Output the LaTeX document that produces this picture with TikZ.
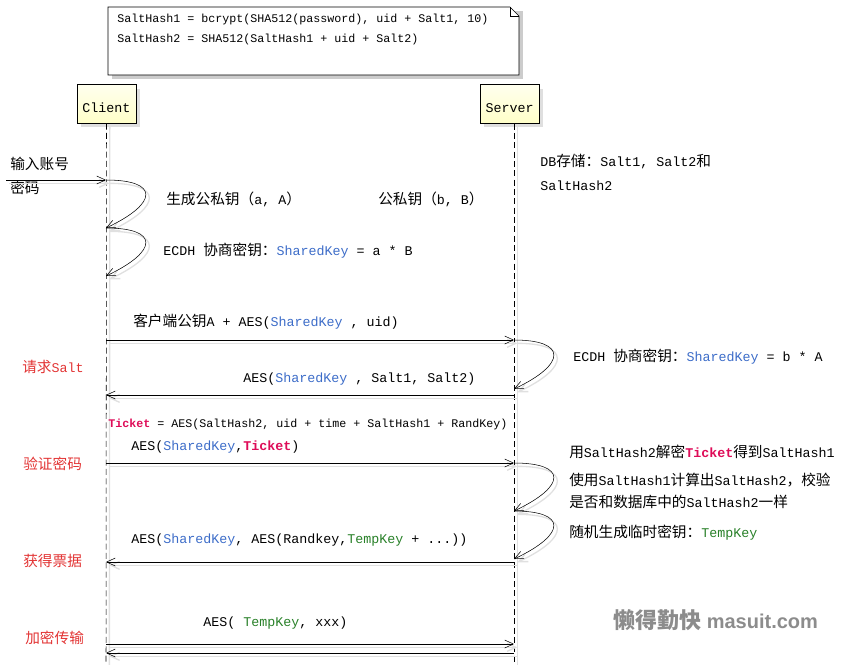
\documentclass[tikz,border=0pt]{standalone}
\usepackage{fontspec}
\setmainfont{Liberation Mono}
\newfontfamily\cjk{Noto Sans CJK SC}[Scale=1.1]
\newfontfamily\wmsans{Liberation Sans}
\usetikzlibrary{arrows.meta, calc, positioning, shadows}

\definecolor{keyblue}{RGB}{60,108,200}
\definecolor{tempgreen}{RGB}{40,128,40}
\definecolor{ticketred}{RGB}{222,12,88}
\definecolor{stagered}{RGB}{226,52,52}
\definecolor{actortop}{RGB}{255,255,238}
\definecolor{actorbot}{RGB}{255,255,200}

\newcommand{\zh}[1]{{\cjk #1}}
\newcommand{\skey}{\textcolor{keyblue}{SharedKey}}
\newcommand{\tkey}{\textcolor{tempgreen}{TempKey}}
\newcommand{\ticket}{\textcolor{ticketred}{\textbf{Ticket}}}

\begin{document}
\begin{tikzpicture}[
        x = 0.75pt, y = -0.75pt,
        >= {Straight Barb[length = 6.5pt, width = 6pt]},
        dropline/.style = {preaction = {draw = black!12, solid, line width = 1pt,
            transform canvas = {shift = {(2.5pt, -2.5pt)}}}},
        msg/.style = {->, thin, dropline},
        lifeline/.style = {thin, dash pattern = on 4.5pt off 2.5pt, dropline},
        actor/.style = {draw, thin, top color = actortop, bottom color = actorbot,
            minimum width = 44pt, minimum height = 29pt, inner sep = 0pt,
            text height = 15pt, text depth = 2pt,
            font = \fontsize{10pt}{12pt}\selectfont,
            drop shadow = {shadow xshift = 3pt, shadow yshift = -3pt, fill = black!25}},
        txt/.style = {anchor = west, inner sep = 0pt, font = \fontsize{10pt}{12pt}\selectfont},
        smalltxt/.style = {anchor = west, inner sep = 0pt, font = \fontsize{8.75pt}{10pt}\selectfont},
        stage/.style = {txt, text = stagered},
        watermark/.style = {anchor = west, inner sep = 0pt, text = black!45,
            font = \wmsans\bfseries\fontsize{15pt}{17pt}\selectfont}
    ]
    \useasboundingbox (0,0) rectangle (855,664);

    % note
    \fill[black!20] (112,11) rectangle (523,79);
    \draw[fill = white] (108,7) -- (510,7) -- (519,16) -- (519,75) -- (108,75) -- cycle;
    \draw (510,7) -- (510,16) -- (519,16);
    \node[smalltxt] (formula1) at (117,19) {SaltHash1 = bcrypt(SHA512(password), uid + Salt1, 10)};
    \node[smalltxt] (formula2) at (117,39) {SaltHash2 = SHA512(SaltHash1 + uid + Salt2)};

    % actors and lifelines
    \node[actor] (client) at (106.5,104) {Client};
    \node[actor] (server) at (509.5,104) {Server};
    \coordinate (cend) at (106,664);
    \coordinate (send) at (514,664);
    \draw[lifeline] (client.south) -- (cend);
    \draw[lifeline] (server.south -| send) -- (send);

    % points on the lifelines
    \coordinate (user) at (6,180);
    \coordinate (c0) at (106,180);
    \coordinate (c1) at (106,228);
    \coordinate (c2) at (106,276);
    \coordinate (c3) at (106,340);
    \coordinate (c4) at (106,395);
    \coordinate (c5) at (106,463);
    \coordinate (c6) at (106,562);
    \coordinate (c7) at (106,644);
    \coordinate (c8) at (106,653);
    \coordinate (s0) at (514,340);
    \coordinate (s1) at (514,389);
    \coordinate (s2) at (514,395);
    \coordinate (s3) at (514,463);
    \coordinate (s4) at (514,511);
    \coordinate (s5) at (514,559);
    \coordinate (s6) at (514,562);
    \coordinate (s7) at (514,644);
    \coordinate (s8) at (514,653);

    % client side
    \node[txt] (input1) at (10,164) {\zh{输入账号}};
    \node[txt] (input2) at (10,188) {\zh{密码}};
    \draw[msg] (user) -- (c0);
    \draw[msg] (c0) .. controls ($(c0)+(53,0)$) and ($(c1)+(53,-25)$) .. (c1);
    \draw[msg] (c1) .. controls ($(c1)+(53,0)$) and ($(c2)+(53,-25)$) .. (c2);
    \node[txt] (genA) at (166,199) {\zh{生成公私钥（}a, A\zh{）}};
    \node[txt] (genB) at (378,199) {\zh{公私钥（}b, B\zh{）}};
    \node[txt] (ecdhC) at (163,251) {ECDH \zh{协商密钥：}\skey{} = a * B};
    \node[txt] (db1) at (540,162) {DB\zh{存储：}Salt1, Salt2\zh{和}};
    \node[txt] (db2) at (540,186) {SaltHash2};

    % request salt
    \node[txt] (m1) at (133,322) {\zh{客户端公钥}A + AES(\skey{} , uid)};
    \draw[msg] (c3) -- (s0);
    \draw[msg] (s0) .. controls ($(s0)+(53,0)$) and ($(s1)+(53,-25)$) .. (s1);
    \node[txt] (ecdhS) at (573,357) {ECDH \zh{协商密钥：}\skey{} = b * A};
    \node[stage] (reqSalt) at (22,367) {\zh{请求}Salt};
    \node[txt] (m2) at (243,379) {AES(\skey{} , Salt1, Salt2)};
    \draw[msg] (s2) -- (c4);

    % verify password
    \node[smalltxt] (ticketdef) at (108,424) {\ticket{} = AES(SaltHash2, uid + time + SaltHash1 + RandKey)};
    \node[txt] (m3) at (131,447) {AES(\skey{},\ticket)};
    \draw[msg] (c5) -- (s3);
    \node[stage] (verify) at (23,464) {\zh{验证密码}};
    \draw[msg] (s3) .. controls ($(s3)+(53,0)$) and ($(s4)+(53,-25)$) .. (s4);
    \draw[msg] (s4) .. controls ($(s4)+(53,0)$) and ($(s5)+(53,-25)$) .. (s5);
    \node[txt] (dec) at (569,452) {\zh{用}SaltHash2\zh{解密}\ticket\zh{得到}SaltHash1};
    \node[txt] (chk1) at (569,480) {\zh{使用}SaltHash1\zh{计算出}SaltHash2\zh{，校验}};
    \node[txt] (chk2) at (569,502) {\zh{是否和数据库中的}SaltHash2\zh{一样}};
    \node[txt] (gen) at (569,533) {\zh{随机生成临时密钥：}\tkey};

    % get ticket
    \node[txt] (m4) at (131,540) {AES(\skey, AES(Randkey,\tkey{} + ...))};
    \draw[msg] (s6) -- (c6);
    \node[stage] (getTicket) at (23,561) {\zh{获得票据}};

    % encrypted transfer
    \node[txt] (m5) at (203,623) {AES( \tkey, xxx)};
    \node[stage] (transfer) at (25,638) {\zh{加密传输}};
    \draw[msg] (c7) -- (s7);
    \draw[msg] (s8) -- (c8);

    \node[watermark] (wm) at (613,620) {{\cjk\bfseries 懒得勤快} masuit.com};
\end{tikzpicture}
\end{document}
